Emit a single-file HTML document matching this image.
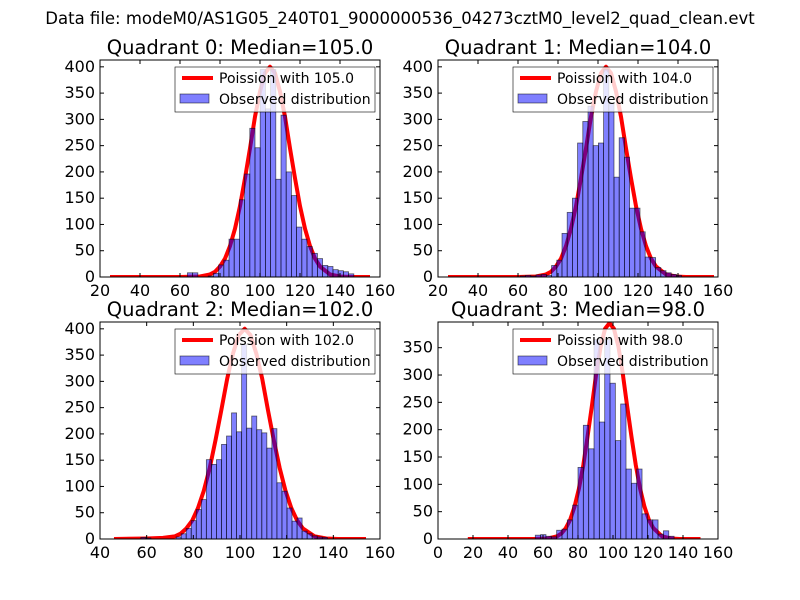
<!DOCTYPE html>
<html><head><meta charset="utf-8"><style>
html,body{margin:0;padding:0;background:#fff;}
svg{display:block;font-family:"DejaVu Sans","Liberation Sans",sans-serif;}
</style></head><body>
<svg id="fig" width="800" height="600" viewBox="0 0 800 600">
<rect width="800" height="600" fill="#fff"/>
<text x="400" y="24" text-anchor="middle" font-size="16.5">Data file: modeM0/AS1G05_240T01_9000000536_04273cztM0_level2_quad_clean.evt</text>
</svg>
<script>
// Quadrant 0
const q0Median = 105.0;
const q0BinStart = 63.7, q0BinWidth = 2.6;
const q0Counts = [8,8,0,0,2,7,23,32,72,72,147,196,283,246,395,320,395,186,308,200,155,95,72,58,45,35,22,20,14,12,10,6];
const q0CurveX = [25,60,70,75,77.5,80,82.5,85,87.5,90,92.5,95,97.5,100,102.5,105,107.5,110,112.5,115,117.5,120,122.5,125,127.5,130,135,140,145,155];
const q0CurveY = [0,0,1,5,10,20,35,59,92,135,188,245,305,353,388,400,388,353,305,245,188,135,92,59,35,20,5,1,0,0];
// Quadrant 1
const q1Median = 104.0;
const q1BinStart = 61.2, q1BinWidth = 2.6;
const q1Counts = [2,3,2,4,5,3,22,32,83,123,150,255,296,325,250,255,395,330,190,265,228,131,131,86,38,37,18,12,8,5,3];
const q1CurveX = [25,60,69,74,76.5,79,81.5,84,86.5,89,91.5,94,96.5,99,101.5,104,106.5,109,111.5,114,116.5,119,121.5,124,126.5,129,134,139,144,158];
const q1CurveY = [0,0,1,5,10,20,35,59,92,135,188,245,305,353,388,400,388,353,305,245,188,135,92,59,35,20,5,1,0,0];
// Quadrant 2
const q2Median = 102.0;
const q2BinStart = 57.5, q2BinWidth = 2.16;
const q2Counts = [3,2,0,0,0,0,0,4,10,20,35,56,75,151,142,151,180,196,240,204,370,211,234,208,202,173,210,107,91,59,34,40,15,10,6,4,3];
const q2CurveX = [46,60,67,72,74.5,77,79.5,82,84.5,87,89.5,92,94.5,97,99.5,102,104.5,107,109.5,112,114.5,117,119.5,122,124.5,127,132,137,142,154];
const q2CurveY = [0,1,2,5,10,20,35,59,92,135,188,245,305,353,388,400,388,353,305,245,188,135,92,59,35,20,5,1,0,0];
// Quadrant 3
const q3Median = 98.0;
const q3BinStart = 55.6, q3BinWidth = 3.05;
const q3Counts = [7,8,5,4,16,18,35,62,131,208,165,365,214,365,285,180,247,128,102,128,46,35,35,9,15,5];
const q3CurveX = [17,55,63,68,70.5,73,75.5,78,80.5,83,85.5,88,90.5,93,95.5,98,100.5,103,105.5,108,110.5,113,115.5,118,120.5,123,128,133,138,150];
const q3CurveY = [0,0,1,5,10,20,35,59,92,135,188,245,305,353,385,395,385,353,305,245,188,135,92,59,35,20,5,1,0,0];

const yTicks012 = [0,50,100,150,200,250,300,350,400];
const yTicks3 = [0,50,100,150,200,250,300,350];
const xTicks0 = [20,40,60,80,100,120,140,160];
const xTicks2 = [40,60,80,100,120,140,160];
const xTicks3 = [0,20,40,60,80,100,120,140,160];

const NS = 'http://www.w3.org/2000/svg';
const svg = document.getElementById('fig');
function mk(tag, attrs, parent){
  const e = document.createElementNS(NS, tag);
  for (const k in attrs) e.setAttribute(k, attrs[k]);
  (parent||svg).appendChild(e);
  return e;
}

const panels = [
  {idx:0, L:100, T:60, W:280, H:217, xmin:20, xmax:160, ymax:413, med:q0Median, bs:q0BinStart, bw:q0BinWidth, counts:q0Counts, cx:q0CurveX, cy:q0CurveY, xt:xTicks0, yt:yTicks012},
  {idx:1, L:438, T:60, W:280, H:217, xmin:20, xmax:160, ymax:413, med:q1Median, bs:q1BinStart, bw:q1BinWidth, counts:q1Counts, cx:q1CurveX, cy:q1CurveY, xt:xTicks0, yt:yTicks012},
  {idx:2, L:100, T:322, W:280, H:217, xmin:40, xmax:160, ymax:413, med:q2Median, bs:q2BinStart, bw:q2BinWidth, counts:q2Counts, cx:q2CurveX, cy:q2CurveY, xt:xTicks2, yt:yTicks012},
  {idx:3, L:438, T:322, W:280, H:217, xmin:0, xmax:160, ymax:397, med:q3Median, bs:q3BinStart, bw:q3BinWidth, counts:q3Counts, cx:q3CurveX, cy:q3CurveY, xt:xTicks3, yt:yTicks3}
];

panels.forEach(p => {
  const g = mk('g', {});
  
  
  const xs = v => p.L + (v - p.xmin) / (p.xmax - p.xmin) * p.W;
  const ys = v => p.T + p.H - v / p.ymax * p.H;

  const t = mk('text', {x: p.L + p.W/2, y: p.T - 6, 'text-anchor':'middle', 'font-size':'19.5'}, g);
  t.textContent = 'Quadrant ' + p.idx + ': Median=' + p.med.toFixed(1);
  
  

  const clipId = 'clip' + p.idx;
  const cp = mk('clipPath', {id: clipId}, g);
  mk('rect', {x:p.L, y:p.T, width:p.W, height:p.H}, cp);
  const plot = mk('g', {'clip-path':'url(#' + clipId + ')'}, g);

  const pts = p.cx.map((x,i) => xs(x).toFixed(1) + ',' + ys(p.cy[i]).toFixed(1)).join(' ');
  const line = mk('polyline', {points: pts, fill:'none', stroke:'#ff0000', 'stroke-width':'4', 'stroke-linejoin':'round'}, plot);
  
  

  p.counts.forEach((c,i) => {
    if (c <= 0) return;
    const x0 = xs(p.bs + i*p.bw), x1 = xs(p.bs + (i+1)*p.bw);
    const r = mk('rect', {x:x0, y:ys(c), width:x1-x0, height:ys(0)-ys(c), fill:'rgba(0,0,255,0.5)', stroke:'rgba(0,0,0,0.6)', 'stroke-width':'0.8'}, plot);
    
    
  });

  const fr = mk('rect', {x:p.L, y:p.T, width:p.W, height:p.H, fill:'none', stroke:'#000', 'stroke-width':'1'}, g);
  
  

  p.xt.forEach(v => {
    const x = xs(v);
    mk('line', {x1:x, y1:p.T+p.H, x2:x, y2:p.T+p.H-4, stroke:'#000'}, g);
    mk('line', {x1:x, y1:p.T, x2:x, y2:p.T+4, stroke:'#000'}, g);
    const tl = mk('text', {x:x, y:p.T+p.H+19, 'text-anchor':'middle', 'font-size':'16'}, g);
    tl.textContent = v;
    
    
  });
  p.yt.forEach(v => {
    const y = ys(v);
    mk('line', {x1:p.L, y1:y, x2:p.L+4, y2:y, stroke:'#000'}, g);
    mk('line', {x1:p.L+p.W, y1:y, x2:p.L+p.W-4, y2:y, stroke:'#000'}, g);
    const tl = mk('text', {x:p.L-5, y:y+5, 'text-anchor':'end', 'font-size':'16'}, g);
    tl.textContent = v;
    
    
  });

  const lg = mk('g', {}, g);
  
  
  const lx = p.L + 75, ly = p.T + 7;
  mk('rect', {x:lx, y:ly, width:200, height:45, fill:'#fff', stroke:'#000', 'stroke-width':'0.6', 'fill-opacity':'0.8'}, lg);
  mk('line', {x1:lx+7, y1:ly+11, x2:lx+38, y2:ly+11, stroke:'#ff0000', 'stroke-width':'4'}, lg);
  const t1 = mk('text', {x:lx+44, y:ly+16, 'font-size':'14'}, lg);
  t1.textContent = 'Poission with ' + p.med.toFixed(1);
  
  
  mk('rect', {x:lx+5, y:ly+27, width:29, height:9, fill:'rgba(0,0,255,0.5)', stroke:'rgba(0,0,0,0.6)', 'stroke-width':'0.8'}, lg);
  const t2 = mk('text', {x:lx+44, y:ly+37, 'font-size':'14'}, lg);
  t2.textContent = 'Observed distribution';
  
  
});
</script>
</body></html>
